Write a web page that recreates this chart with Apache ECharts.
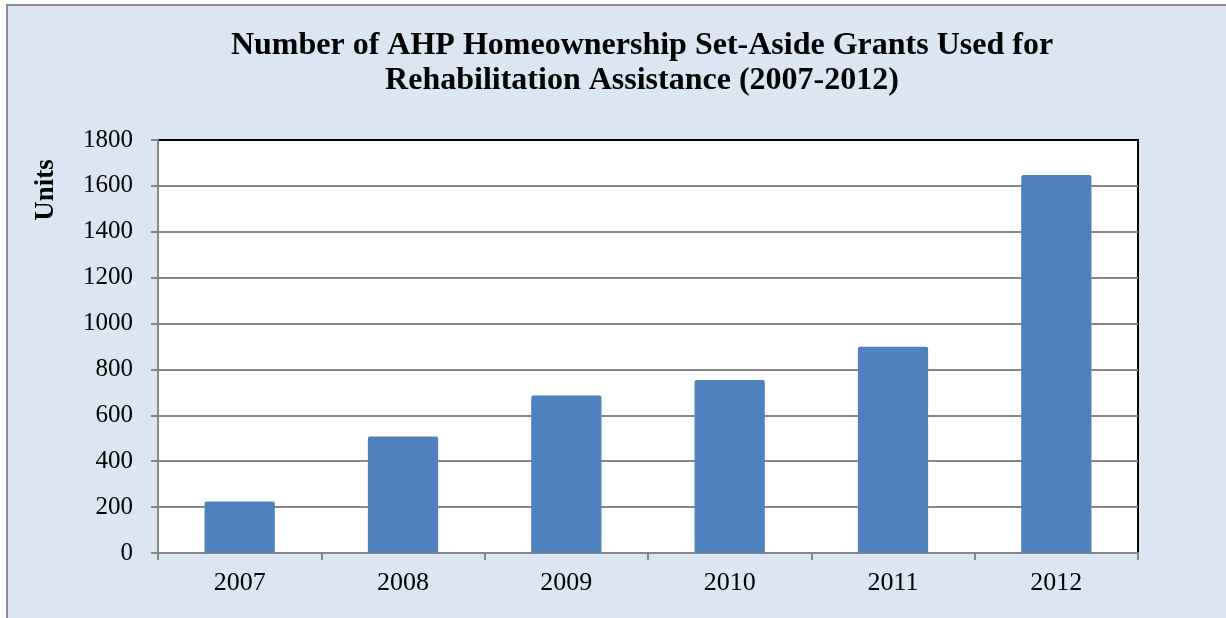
<!DOCTYPE html>
<html>
<head>
<meta charset="utf-8">
<script src="https://cdn.jsdelivr.net/npm/echarts@6/dist/echarts.min.js"></script>
<style>
html, body { margin: 0; padding: 0; background: #fff; }
#chart { width: 1226px; height: 618px; }
</style>
</head>
<body>
<div id="chart"></div>
<script>
var years = ['2007', '2008', '2009', '2010', '2011', '2012'];
var units = [224, 508, 686, 754, 899, 1648];
var yTicks = [0, 200, 400, 600, 800, 1000, 1200, 1400, 1600, 1800];

var myChart = echarts.init(document.getElementById('chart'));
var serif = '"Liberation Serif", "Times New Roman", serif';

// gridlines gray, the one at the top is the black plot border
var gridColors = yTicks.map(function (v, i) {
    return i === yTicks.length - 1 ? '#000' : '#868686';
});

var option = {
    backgroundColor: '#fff',
    animation: false,
    graphic: [
        {
            type: 'rect',
            z: -10,
            shape: { x: 7, y: 5, width: 1300, height: 700 },
            style: { fill: '#dce6f2', stroke: '#8c8c8c', lineWidth: 2 }
        },
        {
            type: 'text',
            x: 642,
            y: 28,
            style: {
                text: 'Number of AHP Homeownership Set-Aside Grants Used for\nRehabilitation Assistance (2007-2012)',
                font: 'bold 32px ' + serif,
                fill: '#000',
                textAlign: 'center',
                lineHeight: 35
            }
        },
        {
            type: 'text',
            x: 46,
            y: 190,
            rotation: Math.PI / 2,
            style: {
                text: 'Units',
                font: 'bold 27px ' + serif,
                fill: '#000',
                textAlign: 'center',
                textVerticalAlign: 'middle'
            }
        }
    ],
    grid: {
        left: 158,
        top: 140,
        right: 88,
        bottom: 65,
        show: true,
        backgroundColor: '#fff',
        borderColor: '#000',
        borderWidth: 2
    },
    xAxis: {
        type: 'category',
        data: years,
        axisLine: { lineStyle: { color: '#868686', width: 2 } },
        axisTick: { show: true, length: 7, lineStyle: { color: '#868686', width: 2 } },
        axisLabel: { color: '#000', fontFamily: serif, fontSize: 26, margin: 17 }
    },
    yAxis: {
        type: 'value',
        min: 0,
        max: 1800,
        interval: 200,
        axisLine: { show: true, lineStyle: { color: '#868686', width: 2 } },
        axisTick: { show: true, length: 7, lineStyle: { color: '#868686', width: 2 } },
        splitLine: { lineStyle: { color: gridColors, width: 2 } },
        axisLabel: {
            color: '#000', fontFamily: serif, fontSize: 25, margin: 25,
            formatter: function (v) { return String(v); }
        }
    },
    series: [{
        type: 'bar',
        data: units,
        barWidth: '43%',
        itemStyle: { color: '#4f81bd', borderRadius: [2, 2, 0, 0] }
    }]
};

myChart.setOption(option);
window.addEventListener('resize', function () {
    myChart.resize();
});
</script>
</body>
</html>
